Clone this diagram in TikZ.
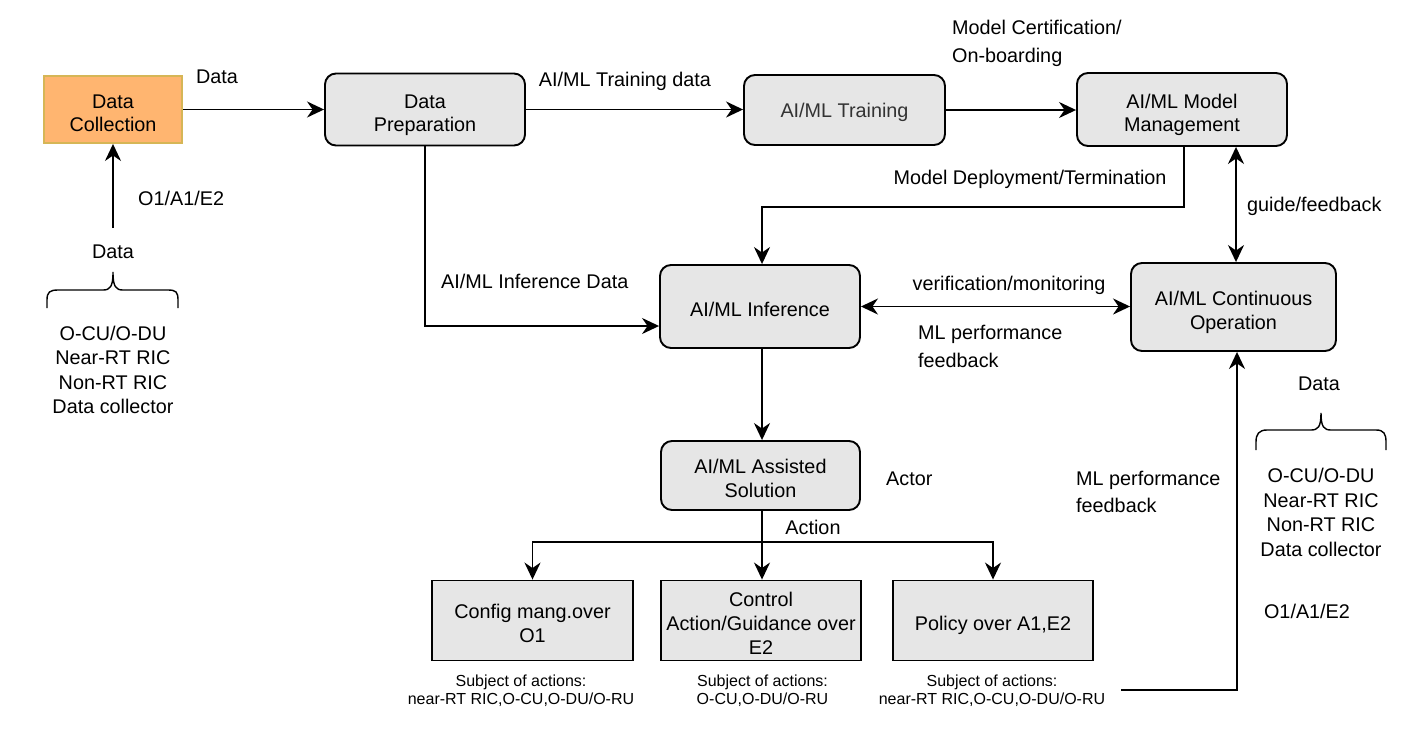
\documentclass[tikz,border=0pt]{standalone}
\usepackage{fontspec}
\setmainfont{Liberation Sans}
\usetikzlibrary{arrows.meta}
\definecolor{boxgray}{HTML}{E6E6E6}
\definecolor{dcfill}{HTML}{FFB570}
\definecolor{dcline}{HTML}{D6B656}
\definecolor{txtgray}{HTML}{333333}
\newcommand{\bxtop}[1][24.7pt]{\rule{0pt}{#1}}
\newcommand{\bxbot}{\rule[-4.5pt]{0pt}{4.5pt}}
\begin{document}
\begin{tikzpicture}[x=1pt,y=-1pt,
  every node/.style={font=\fontsize{19.8}{23.8}\selectfont, inner sep=0pt},
  rbox/.style={draw, line width=1.9pt, fill=boxgray, rounded corners=11pt, align=center},
  sbox/.style={draw, line width=1.9pt, fill=boxgray, align=center},
  lbl/.style={align=left, anchor=west},
  twoline/.style={font=\fontsize{19.8}{28}\selectfont},
  listtxt/.style={align=center, font=\fontsize{19.8}{24.6}\selectfont},
  small/.style={font=\fontsize{16}{17.6}\selectfont, align=center},
  conn/.style={line width=1.9pt},
  arr/.style={conn, -{Stealth[length=17pt,width=16pt,inset=5.5pt]}},
  darr/.style={conn, {Stealth[length=17pt,width=16pt,inset=5.5pt]}-{Stealth[length=17pt,width=16pt,inset=5.5pt]}},
  brace/.style={line width=1.4pt},
]
\fill[white] (0,0) rectangle (1422,742);
\useasboundingbox (0,0) rectangle (1422,742);

% boxes
\node[draw=dcline, line width=1.9pt, fill=dcfill, align=center, minimum width=138pt, minimum height=67pt] (dc) at (113,109.5) {\bxtop[25.3pt]Data\\Collection\bxbot};
\node[rbox, minimum width=200pt, minimum height=72pt] (dp) at (425,109.5) {\bxtop[25.3pt]Data\\Preparation\bxbot};
\node[rbox, minimum width=201pt, minimum height=70pt, text=txtgray] (tr) at (844.5,110) {\bxtop[18.7pt]AI/ML Training\bxbot};
\node[rbox, minimum width=210pt, minimum height=73pt] (mm) at (1182,109.5) {\bxtop[25.3pt]AI/ML Model\\Management\bxbot};
\node[rbox, minimum width=200pt, minimum height=83pt] (inf) at (760,306.5) {\bxtop AI/ML Inference\bxbot};
\node[rbox, minimum width=205pt, minimum height=88pt] (co) at (1233.5,307) {\bxtop AI/ML Continuous\\Operation\bxbot};
\node[rbox, minimum width=199pt, minimum height=69pt] (as) at (760.5,475.5) {\bxtop AI/ML Assisted\\Solution\bxbot};
\node[sbox, minimum width=201pt, minimum height=80pt] (cfg) at (532.5,620.5) {\bxtop Config mang.over\\O1\bxbot};
\node[sbox, minimum width=200pt, minimum height=80pt] (ctl) at (761,620.5) {\bxtop Control\\Action/Guidance over\\E2\bxbot};
\node[sbox, minimum width=200pt, minimum height=80pt] (pol) at (993,620.5) {\bxtop Policy over A1,E2\bxbot};

% connectors
\draw[arr] (dc.east) -- (dp.west);
\draw[arr] (dp.east) -- (dp.east -| tr.west);
\draw[arr] (tr.east) -- (tr.east -| mm.west);
\coordinate (m1) at ([xshift=2pt]mm.south);
\coordinate (i0) at ([xshift=2pt]inf.north);
\draw[arr] (m1) -- ++(0,60) -| (i0);
\coordinate (g1) at ([xshift=54pt]mm.south);
\draw[darr] (g1) -- (g1 |- co.north);
\draw[darr] (inf.east) -- (inf.east -| co.west);
\draw[arr] (dp.south) |- ([yshift=-19.5pt]inf.west);
\coordinate (i1) at ([xshift=2pt]inf.south);
\draw[arr] (i1) -- (i1 |- as.north);
\coordinate (a1) at ([xshift=1.5pt]as.south);
\coordinate (br) at ([yshift=-31pt]a1);
\draw[arr] (a1) -- (a1 |- ctl.north);
\draw[arr] (br) -| (cfg.north);
\draw[arr] (br) -| (pol.north);
\coordinate (dcin) at (113,228);
\draw[arr] (dcin) -- (dc.south);
\coordinate (pf) at (1121,690);
\coordinate (c1) at ([xshift=3.5pt]co.south);
\draw[arr] (pf) -| (c1);

% labels
\node (l1) at (217,77) {Data};
\node (l2) at (625,81) {AI/ML Training data};
\node[lbl, twoline] (l3) at (952,43) {Model Certification/\\On-boarding};
\node (l4) at (1030,179) {Model Deployment/Termination};
\node[lbl] (l5) at (1247,206) {guide/feedback};
\node[lbl] (l6) at (441,281) {AI/ML Inference Data};
\node (l7) at (1009,285) {verification/monitoring};
\node[lbl, twoline] (l8) at (918,346) {ML performance\\feedback};
\node[lbl] (l9) at (138,198) {O1/A1/E2};
\node (l10) at (113,252) {Data};
\node[listtxt] (l11) at (113,370) {O-CU/O-DU\\Near-RT RIC\\Non-RT RIC\\Data collector};
\node[lbl] (l12) at (886,479) {Actor};
\node (l13) at (813,527) {Action};
\node[lbl, font=\fontsize{19.8}{27}\selectfont] (l14) at (1076,491.5) {ML performance\\feedback};
\node (l15) at (1319,384) {Data};
\node[listtxt, font=\fontsize{19.8}{24.4}\selectfont] (l16) at (1321,512.5) {O-CU/O-DU\\Near-RT RIC\\Non-RT RIC\\Data collector};
\node (l17) at (1307,611) {O1/A1/E2};
\node[small] (s1) at (521,691) {Subject of actions:\\near-RT RIC,O-CU,O-DU/O-RU};
\node[small] (s2) at (762.5,691) {Subject of actions:\\O-CU,O-DU/O-RU};
\node[small] (s3) at (992,691) {Subject of actions:\\near-RT RIC,O-CU,O-DU/O-RU};

% braces
\draw[brace] (47,308) -- (47,300) .. controls (47,292) and (50,290) .. (58,290) -- (103,290) .. controls (110,290) and (113,287) .. (113,272) .. controls (113,287) and (116,290) .. (123,290) -- (168,290) .. controls (176,290) and (178,292) .. (178,300) -- (178,308);
\draw[brace] (1256,450) -- (1256,442) .. controls (1256,434) and (1259,430) .. (1267,430) -- (1311,430) .. controls (1318,430) and (1321,427) .. (1321,413) .. controls (1321,427) and (1324,430) .. (1331,430) -- (1376,430) .. controls (1384,430) and (1386,434) .. (1386,442) -- (1386,450);
\end{tikzpicture}
\end{document}
